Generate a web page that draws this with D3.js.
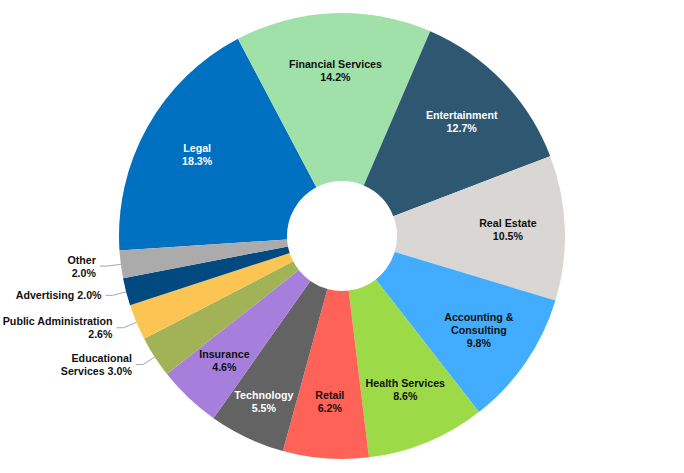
<!DOCTYPE html>
<html>
<head>
<meta charset="utf-8">
<script src="https://cdn.jsdelivr.net/npm/d3@7"></script>
<style>
  body { margin: 0; background: #fff; }
  text { font-family: "Liberation Sans", Arial, sans-serif; font-weight: bold; font-size: 10.67px; }
</style>
</head>
<body>
<div id="chart"></div>
<script>
// data, in drawing order (clockwise)
var categories = ["Legal", "Financial Services", "Entertainment", "Real Estate",
  "Accounting &|Consulting", "Health Services", "Retail", "Technology", "Insurance",
  "Educational|Services", "Public Administration", "Advertising", "Other"];
var values = [18.3, 14.2, 12.7, 10.5, 9.8, 8.6, 6.2, 5.5, 4.6, 3.0, 2.6, 2.0, 2.0];
var colors = ["#0070C0", "#A0E0A9", "#2E5872", "#DAD6D3", "#42ACFF", "#9DDA48", "#FF6257",
  "#636363", "#A57FDB", "#A1B257", "#FBC453", "#004A80", "#ABABAB"];
var textColors = ["#fff", "#111", "#fff", "#111", "#111", "#111", "#111", "#fff", "#111",
  "#111", "#111", "#111", "#111"];
var outside = ["Educational|Services", "Public Administration", "Advertising", "Other"];
var pctSameLine = ["Educational|Services", "Advertising"];

var chartW = 684, chartH = 473;
var cx = 342, cy = 236, outerR = 223, innerR = 55;
var labelR = {default: 166, "Technology": 183, "Insurance": 171};
var lineH = 13;
var startA = -93.7 * Math.PI / 180;

var data = categories.map(function(c, i){
  return {name: c, value: values[i], color: colors[i], tc: textColors[i]};
});

var svg = d3.select("#chart").append("svg")
  .attr("width", chartW).attr("height", chartH)
  .append("g")
  .attr("transform", "translate(" + cx + "," + cy + ")");

var pie = d3.pie().sort(null).value(function(d){ return d.value; })
  .startAngle(startA).endAngle(startA + 2 * Math.PI);
var arcData = pie(data);

var arc = d3.arc().innerRadius(innerR).outerRadius(outerR);

svg.selectAll(".slice")
  .data(arcData)
  .enter().append("path")
  .attr("class", "slice")
  .attr("d", arc)
  .attr("fill", function(d){ return d.data.color; });

function labelLines(d){
  var pct = d.data.value.toFixed(1) + "%";
  var parts = d.data.name.split("|");
  if(pctSameLine.indexOf(d.data.name) >= 0){
    parts[parts.length - 1] += " " + pct;
  } else {
    parts.push(pct);
  }
  return parts;
}

function drawText(g, lines, x, y, anchor, color){
  var t = g.append("text")
    .attr("text-anchor", anchor)
    .attr("fill", color);
  lines.forEach(function(l, i){
    t.append("tspan")
      .attr("x", x)
      .attr("y", y + (i - (lines.length - 1) / 2) * lineH)
      .attr("dominant-baseline", "central")
      .text(l);
  });
}

// inside labels
arcData.filter(function(d){ return outside.indexOf(d.data.name) < 0; })
  .forEach(function(d){
    var r = labelR[d.data.name] || labelR.default;
    var c = d3.arc().innerRadius(r).outerRadius(r).centroid(d);
    drawText(svg, labelLines(d), c[0], c[1], "middle", d.data.tc);
  });

// outside labels with leader lines
arcData.filter(function(d){ return outside.indexOf(d.data.name) >= 0; })
  .forEach(function(d){
    var p0 = d3.arc().innerRadius(outerR).outerRadius(outerR).centroid(d);
    var p1 = d3.arc().innerRadius(outerR + 14).outerRadius(outerR + 14).centroid(d);
    var p2 = [p1[0] - 7, p1[1]];
    svg.append("polyline")
      .attr("points", [p0, p1, p2].map(function(p){ return p.join(","); }).join(" "))
      .attr("fill", "none")
      .attr("stroke", "#A6A6A6")
      .attr("stroke-width", 1);
    drawText(svg, labelLines(d), p2[0] - 4, p2[1], "end", d.data.tc);
  });
</script>
</body>
</html>
